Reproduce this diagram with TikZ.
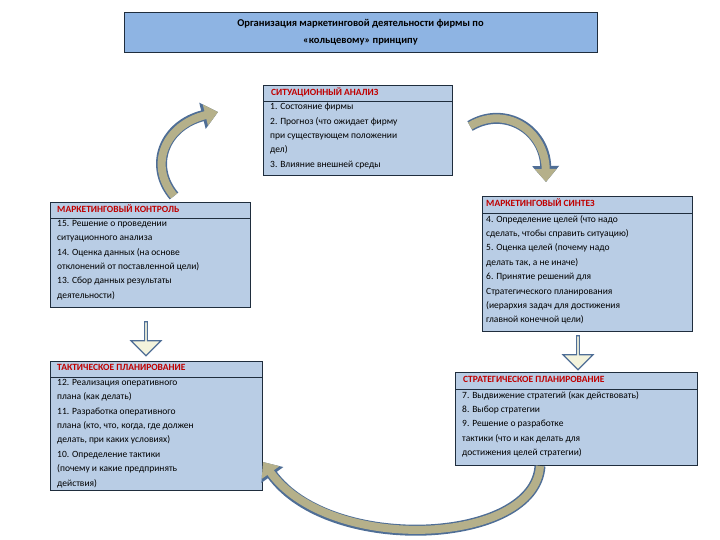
\documentclass[tikz,border=0pt]{standalone}
\usepackage{fontspec}
\setmainfont{Carlito}
\usetikzlibrary{arrows.meta,shapes.arrows}
\definecolor{boxfill}{HTML}{B9CDE5}
\definecolor{titlefill}{HTML}{8EB4E3}
\definecolor{boxline}{HTML}{1F2D3D}
\definecolor{headred}{HTML}{C00000}
\definecolor{arrowfill}{HTML}{B5B08A}
\definecolor{arrowline}{HTML}{4F6E96}
\definecolor{blockfill}{HTML}{F3F3DC}
\tikzset{
    stagebox/.style={draw=boxline,fill=boxfill,line width=0.8pt},
    headtext/.style={anchor=north west,inner sep=0pt,text=headred,font=\fontsize{9.5}{14}\selectfont\bfseries},
    bodytext/.style={anchor=north west,inner sep=0pt,align=left,font=\fontsize{9.5}{14.4}\selectfont},
    ringouter/.style={line width=11pt,arrowline,-{Triangle[width=26pt,length=16pt]}},
    ringinner/.style={line width=8pt,arrowfill,-{Triangle[width=21pt,length=13pt]}},
    downarrow/.style={single arrow,draw=arrowline,fill=blockfill,line width=1.2pt,
        rotate=-90,minimum height=34pt,minimum width=30pt,single arrow head extend=6pt,inner sep=0pt}
}
\begin{document}
\begin{tikzpicture}[x=1pt,y=-1pt]
    \useasboundingbox (0,0) rectangle (720,540);

    % title
    \draw[stagebox,fill=titlefill] (124,12) rectangle (597,52);
    \node[align=center,font=\fontsize{10.5}{17}\selectfont\bfseries] (title) at (360.5,32)
        {Организация маркетинговой деятельности фирмы по\\«кольцевому» принципу};

    % situational analysis
    \draw[stagebox] (263,85) rectangle (452,175);
    \draw[boxline,line width=0.8pt] (263,101) -- (452,101);
    \node[headtext] (sitH) at (271,88) {СИТУАЦИОННЫЙ АНАЛИЗ};
    \node[bodytext] (sitB) at (270,103) {1. Состояние фирмы\\2. Прогноз (что ожидает фирму\\при существующем положении\\дел)\\3. Влияние внешней среды};

    % control
    \draw[stagebox] (50,202) rectangle (250,307);
    \draw[boxline,line width=0.8pt] (50,218) -- (250,218);
    \node[headtext] (ctrlH) at (57,205) {МАРКЕТИНГОВЫЙ КОНТРОЛЬ};
    \node[bodytext] (ctrlB) at (57,220) {15. Решение о проведении\\ситуационного анализа\\14. Оценка данных (на основе\\отклонений от поставленной цели)\\13. Сбор данных результаты\\деятельности)};

    % synthesis
    \draw[stagebox] (482,196) rectangle (692,331);
    \draw[boxline,line width=0.8pt] (482,213) -- (692,213);
    \node[headtext] (synH) at (486,199) {МАРКЕТИНГОВЫЙ СИНТЕЗ};
    \node[bodytext] (synB) at (486,215) {4. Определение целей (что надо\\сделать, чтобы справить ситуацию)\\5. Оценка целей (почему надо\\делать так, а не иначе)\\6. Принятие решений для\\Стратегического планирования\\(иерархия задач для достижения\\главной конечной цели)};

    % tactical planning
    \draw[stagebox] (50,361) rectangle (262,490);
    \draw[boxline,line width=0.8pt] (50,377) -- (262,377);
    \node[headtext] (tacH) at (57,364) {ТАКТИЧЕСКОЕ ПЛАНИРОВАНИЕ};
    \node[bodytext] (tacB) at (57,379) {12. Реализация оперативного\\плана (как делать)\\11. Разработка оперативного\\плана (кто, что, когда, где должен\\делать, при каких условиях)\\10. Определение тактики\\(почему и какие предпринять\\действия)};

    % strategic planning
    \draw[stagebox] (455,372) rectangle (697,465);
    \draw[boxline,line width=0.8pt] (455,389) -- (697,389);
    \node[headtext] (strH) at (463,376) {СТРАТЕГИЧЕСКОЕ ПЛАНИРОВАНИЕ};
    \node[bodytext] (strB) at (462,391) {7. Выдвижение стратегий (как действовать)\\8. Выбор стратегии\\9. Решение о разработке\\тактики (что и как делать для\\достижения целей стратегии)};

    % ring arrows
    \coordinate (lA) at (174,196);
    \coordinate (lB) at (218,112);
    \coordinate (rA) at (470,126);
    \coordinate (rB) at (546,182);
    \coordinate (bA) at (540,466);
    \coordinate (bB) at (263,462);
    \foreach \s in {ringouter,ringinner} {
        \draw[\s] (lA) .. controls (148,165) and (165,125) .. (lB);
        \draw[\s] (rA) .. controls (505,105) and (545,130) .. (rB);
        \draw[\s] (bA) .. controls (535,545) and (330,555) .. (bB);
    }

    % block arrows
    \node[downarrow] (ctrlDown) at (146,338) {};
    \node[downarrow] (synDown) at (578,352) {};
\end{tikzpicture}
\end{document}
